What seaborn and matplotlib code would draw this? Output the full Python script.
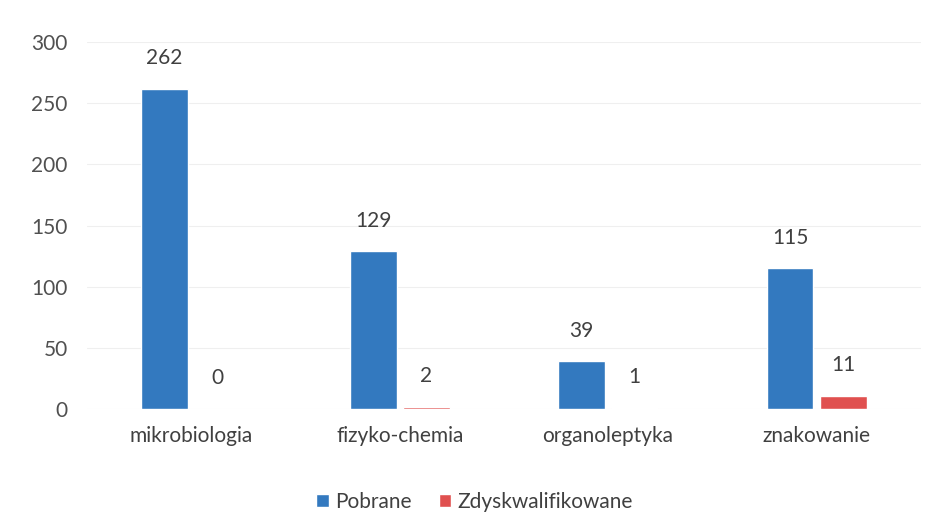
import matplotlib
matplotlib.use("Agg")
import matplotlib.pyplot as plt
import seaborn as sns
import pandas as pd

categories = ["mikrobiologia", "fizyko-chemia", "organoleptyka", "znakowanie"]
pobrane = [262, 129, 39, 115]
zdyskwalifikowane = [0, 2, 1, 11]
series_names = ["Pobrane", "Zdyskwalifikowane"]
y_ticks = [0, 50, 100, 150, 200, 250, 300]

df = pd.DataFrame({
    "kategoria": categories * 2,
    "seria": [series_names[0]] * 4 + [series_names[1]] * 4,
    "liczba": pobrane + zdyskwalifikowane,
})

sns.set_theme(style="white")
plt.rcParams["font.family"] = ["Lato", "DejaVu Sans"]

fig = plt.figure(figsize=(9.41, 5.26), dpi=100)
ax = fig.add_axes([0.0925, 0.222, 0.886, 0.698])

palette = {"Pobrane": "#3379BF", "Zdyskwalifikowane": "#E0504F"}
sns.barplot(data=df, x="kategoria", y="liczba", hue="seria", order=categories,
            hue_order=series_names, palette=palette, width=0.51, gap=0.12,
            saturation=1, ax=ax, legend=True)

ax.set_ylim(0, 300)
ax.set_yticks(y_ticks)
ax.yaxis.grid(True, color="#efefef", linewidth=0.8)
ax.set_axisbelow(True)
for s in ax.spines.values():
    s.set_visible(False)
ax.set_xlabel("")
ax.set_ylabel("")
ax.tick_params(axis="y", labelsize=15, labelcolor="#505050", pad=14, length=0)
ax.tick_params(axis="x", labelsize=15, labelcolor="#404040", pad=12, length=0)

for cont in ax.containers:
    ax.bar_label(cont, padding=15, fontsize=15, color="#404040")

ax.legend(loc="upper center", bbox_to_anchor=(0.465, -0.175), ncol=2, frameon=False,
          fontsize=15, handlelength=0.6, handleheight=0.6, handletextpad=0.3,
          columnspacing=1.3, labelcolor="#404040")

fig.savefig("out.png", dpi=100, facecolor="white")
